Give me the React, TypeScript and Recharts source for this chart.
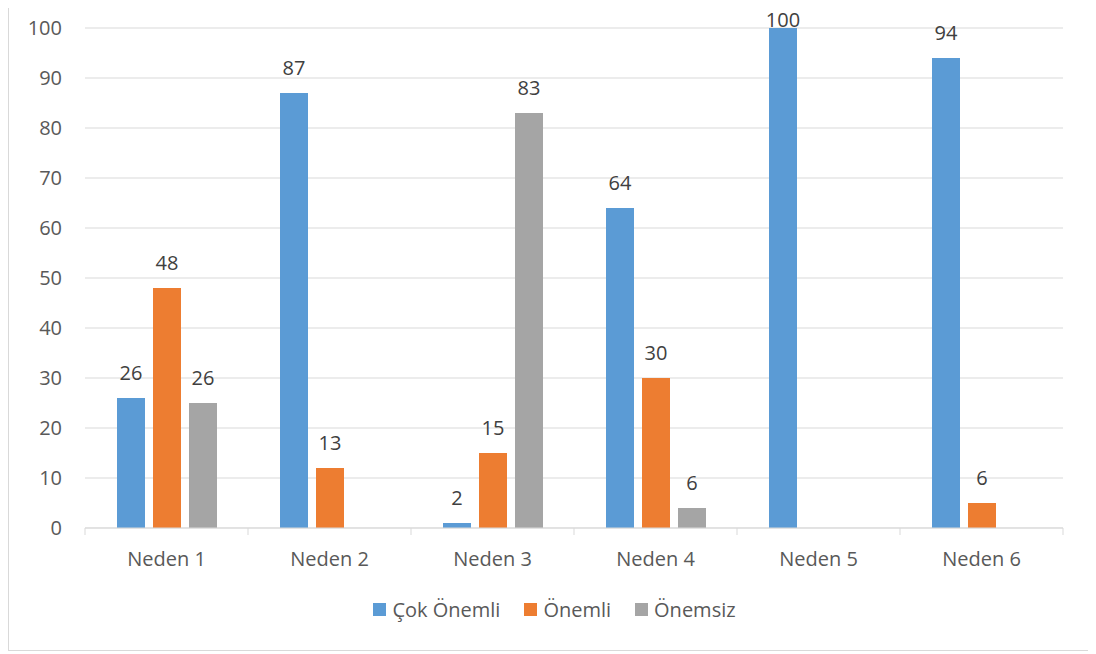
import { BarChart, Bar, XAxis, YAxis, CartesianGrid, Legend, LabelList } from "recharts";

const categories = ["Neden 1", "Neden 2", "Neden 3", "Neden 4", "Neden 5", "Neden 6"];
// bar heights as drawn
const cokOnemli = [26, 87, 1, 64, 100, 94];
const onemli = [48, 12, 15, 30, 0, 5];
const onemsiz = [25, 0, 83, 4, 0, 0];
// printed data labels (differ slightly from the drawn bars)
const cokOnemliLabels = [26, 87, 2, 64, 100, 94];
const onemliLabels = [48, 13, 15, 30, null, 6];
const onemsizLabels = [26, null, 83, 6, null, null];
const yTicks = [0, 10, 20, 30, 40, 50, 60, 70, 80, 90, 100];

const series = [
  { key: "cok", label: "labCok", name: "Çok Önemli", color: "#5B9BD5" },
  { key: "onemli", label: "labOnemli", name: "Önemli", color: "#ED7D31" },
  { key: "onemsiz", label: "labOnemsiz", name: "Önemsiz", color: "#A5A5A5" },
];

const data = categories.map((name, i) => ({
  name,
  cok: cokOnemli[i],
  onemli: onemli[i],
  onemsiz: onemsiz[i],
  labCok: cokOnemliLabels[i],
  labOnemli: onemliLabels[i],
  labOnemsiz: onemsizLabels[i],
}));

const FONT = "'Open Sans', sans-serif";
const GRID = "#D9D9D9";

const renderLabel = (props: any) => {
  const { x, y, width, value } = props;
  if (value === null || value === undefined) return null;
  return (
    <text
      x={Number(x) + Number(width) / 2}
      y={Math.max(Number(y) - 18, 30)}
      textAnchor="middle"
      fontSize={20}
      fontFamily={FONT}
      fill="#404040"
    >
      {value}
    </text>
  );
};

// category label plus Excel-style tick marks between categories
const CategoryTick = (props: any) => {
  const { x, y, payload, index, visibleTicksCount } = props;
  const half = payload.offset || 0;
  const isLast = index === visibleTicksCount - 1;
  return (
    <g>
      <line x1={x - half} x2={x - half} y1={y} y2={y + 7} stroke={GRID} />
      {isLast && <line x1={x + half} x2={x + half} y1={y} y2={y + 7} stroke={GRID} />}
      <text x={x} y={y + 38} textAnchor="middle" fontSize={20} fontFamily={FONT} fill="#595959">
        {payload.value}
      </text>
    </g>
  );
};

const renderLegend = () => (
  <div
    style={{
      height: 30,
      display: "flex",
      justifyContent: "center",
      alignItems: "center",
      gap: 24,
      paddingLeft: 8,
      fontFamily: FONT,
      fontSize: 20,
      color: "#595959",
    }}
  >
    {series.map((s) => (
      <div key={s.key} style={{ display: "flex", alignItems: "center", gap: 6 }}>
        <span style={{ width: 13, height: 13, background: s.color, display: "inline-block" }} />
        <span>{s.name}</span>
      </div>
    ))}
  </div>
);

export default function App() {
  return (
    <div
      style={{
        position: "relative",
        marginTop: -12,
        width: 1085,
        height: 655,
        border: "1px solid " + GRID,
        boxSizing: "border-box",
        background: "#fff",
        fontFamily: FONT,
      }}
    >
      <BarChart
        width={1083}
        height={653}
        data={data}
        margin={{ top: 31, right: 29, left: 0, bottom: 26 }}
        barSize={28}
        barGap={8}
      >
        <CartesianGrid vertical={false} stroke={GRID} />
        <XAxis
          dataKey="name"
          axisLine={{ stroke: GRID }}
          tickLine={false}
          tickSize={0}
          tickMargin={0}
          height={66}
          interval={0}
          tick={<CategoryTick />}
        />
        <YAxis
          width={76}
          domain={[0, 100]}
          ticks={yTicks}
          interval={0}
          axisLine={false}
          tickLine={false}
          tickSize={0}
          tickMargin={23}
          tick={{ fontSize: 20, fontFamily: FONT, fill: "#595959" }}
        />
        <Legend
          verticalAlign="bottom"
          content={renderLegend}
          wrapperStyle={{ left: 0, width: 1083 }}
        />
        {series.map((s) => (
          <Bar key={s.key} dataKey={s.key} name={s.name} fill={s.color} isAnimationActive={false}>
            <LabelList dataKey={s.label} content={renderLabel} />
          </Bar>
        ))}
      </BarChart>
    </div>
  );
}
